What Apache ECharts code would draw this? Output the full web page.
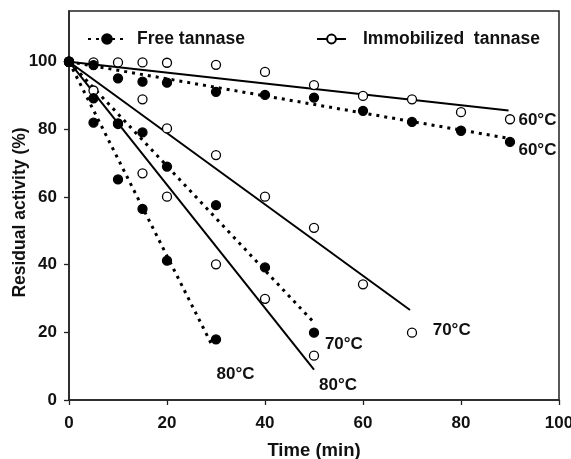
<!DOCTYPE html>
<html><head><meta charset="utf-8">
<script src="https://cdn.jsdelivr.net/npm/echarts@6/dist/echarts.min.js"></script>
<style>html,body{margin:0;padding:0;background:#fff}#c{width:571px;height:459px}</style>
</head><body><div id="c"></div>
<script>
// ---- data ----
const timeTicks = [0, 20, 40, 60, 80, 100];
const activityTicks = [0, 20, 40, 60, 80, 100];

// Free tannase (filled circles)
const free60 = [[0,100],[5,99.0],[10,95.1],[15,94.1],[20,93.8],[30,91.1],[40,90.2],[50,89.4],[60,85.5],[70,82.2],[80,79.6],[90,76.3]];
const free70 = [[0,100],[5,89.2],[10,81.6],[15,79.1],[20,69.0],[30,57.6],[40,39.2],[50,19.9]];
const free80 = [[0,100],[5,82.0],[10,65.2],[15,56.5],[20,41.2],[30,17.9]];
// Immobilized tannase (open circles)
const immob60 = [[0,100],[5,99.8],[10,99.8],[15,99.8],[20,99.7],[30,99.1],[40,97.0],[50,93.1],[60,89.9],[70,88.9],[80,85.1],[90,83.0]];
const immob70 = [[0,100],[15,88.9],[20,80.3],[30,72.4],[40,60.1],[50,50.9],[60,34.2],[70,19.9]];
const immob80 = [[0,100],[5,91.5],[10,81.8],[15,67.0],[20,60.1],[30,40.1],[40,29.9],[50,13.1]];

// fitted lines (start, end)
const fitFree60 = [[0,100],[89.5,77.4]];
const fitFree70 = [[0,100],[49.6,23.5]];
const fitFree80 = [[0,100],[29.4,15.6]];
const fitImmob60 = [[0,100],[89.7,85.6]];
const fitImmob70 = [[0,100],[69.6,26.6]];
const fitImmob80 = [[0,100],[50,9.0]];

// temperature annotations [time, activity, text]
const tempLabels = [[95.7,82.5,'60°C'],[95.7,73.6,'60°C'],[78.2,20.4,'70°C'],[56.2,16.3,'70°C'],[34.1,7.4,'80°C'],[55.0,4.1,'80°C']];

const FREE = 'Free tannase';
const IMMOB = 'Immobilized  tannase';
const FONT = 'Liberation Sans, Arial, sans-serif';

function fitSeries(name, data, dotted, fill) {
  return {
    type: 'line', name: name, data: data, showSymbol: false, symbol: 'circle',
    silent: true, animation: false, z: 2,
    lineStyle: dotted ? {color: '#000', width: 3, type: [3, 5]} : {color: '#000', width: 2, type: 'solid'},
    itemStyle: {color: fill, borderColor: '#000', borderWidth: 1.3}
  };
}
function pointSeries(name, data, fill) {
  return {
    type: 'scatter', name: name, data: data, symbol: 'circle', symbolSize: 9,
    animation: false, z: 3,
    itemStyle: {color: fill, borderColor: '#000', borderWidth: 1.3, opacity: 1}
  };
}

const axisText = {fontSize: 17, fontWeight: 'bold', color: '#111', fontFamily: FONT};
const chart = echarts.init(document.getElementById('c'), null, {renderer: 'canvas'});
chart.setOption({
  backgroundColor: '#fff',
  animation: false,
  grid: {left: 69, right: 12, top: 11, bottom: 59, show: true, borderColor: '#222', borderWidth: 1.5,
         backgroundColor: 'transparent', containLabel: false, outerBoundsMode: 'none'},
  legend: [
    {data: [FREE], left: 82, top: 25, itemWidth: 38, itemHeight: 12, selectedMode: false,
     textStyle: {fontSize: 17.5, fontWeight: 'bold', color: '#111', fontFamily: FONT, padding: [0, 0, 0, 6]}},
    {data: [IMMOB], left: 311, top: 25, itemWidth: 29, itemHeight: 11, selectedMode: false,
     textStyle: {fontSize: 17.5, fontWeight: 'bold', color: '#111', fontFamily: FONT, padding: [0, 0, 0, 12]}}
  ],
  xAxis: {
    type: 'value', min: 0, max: 100, interval: 20,
    axisLine: {show: true, lineStyle: {color: '#222', width: 1.5}},
    axisTick: {show: true, length: 5, lineStyle: {color: '#222', width: 1.3}, customValues: timeTicks},
    axisLabel: Object.assign({margin: 15, customValues: timeTicks}, axisText),
    splitLine: {show: false},
    name: 'Time (min)', nameLocation: 'middle', nameGap: 41,
    nameTextStyle: {fontSize: 18.5, fontWeight: 'bold', color: '#111', fontFamily: FONT}
  },
  yAxis: {
    type: 'value', min: 0, max: 115, interval: 20,
    axisLine: {show: true, lineStyle: {color: '#222', width: 1.5}},
    axisTick: {show: true, length: 5, lineStyle: {color: '#222', width: 1.3}, customValues: activityTicks},
    axisLabel: Object.assign({margin: 12, customValues: activityTicks}, axisText),
    splitLine: {show: false},
    name: 'Residual activity (%)', nameLocation: 'middle', nameGap: 40, nameMoveOverlap: false,
    nameTextStyle: {fontSize: 17.5, fontWeight: 'bold', color: '#111', fontFamily: FONT, padding: [0, 14, 0, 0]}
  },
  series: [
    fitSeries(FREE, fitFree60, true, '#000'),
    fitSeries(IMMOB, fitImmob60, false, '#fff'),
    fitSeries(FREE, fitFree70, true, '#000'),
    fitSeries(FREE, fitFree80, true, '#000'),
    fitSeries(IMMOB, fitImmob70, false, '#fff'),
    fitSeries(IMMOB, fitImmob80, false, '#fff'),
    pointSeries(IMMOB, immob60, '#fff'),
    pointSeries(IMMOB, immob70, '#fff'),
    pointSeries(IMMOB, immob80, '#fff'),
    pointSeries(FREE, free60, '#000'),
    pointSeries(FREE, free70, '#000'),
    pointSeries(FREE, free80, '#000'),
    {
      type: 'scatter', name: 'labels', data: tempLabels, symbolSize: 1, silent: true, z: 4,
      itemStyle: {color: '#fff', opacity: 0},
      label: {show: true, position: [0, 0], align: 'center', verticalAlign: 'middle',
              formatter: function (p) { return p.value[2]; },
              fontSize: 17, fontWeight: 'bold', color: '#111', opacity: 1, textBorderWidth: 0, fontFamily: FONT}
    }
  ]
});
</script></body></html>
